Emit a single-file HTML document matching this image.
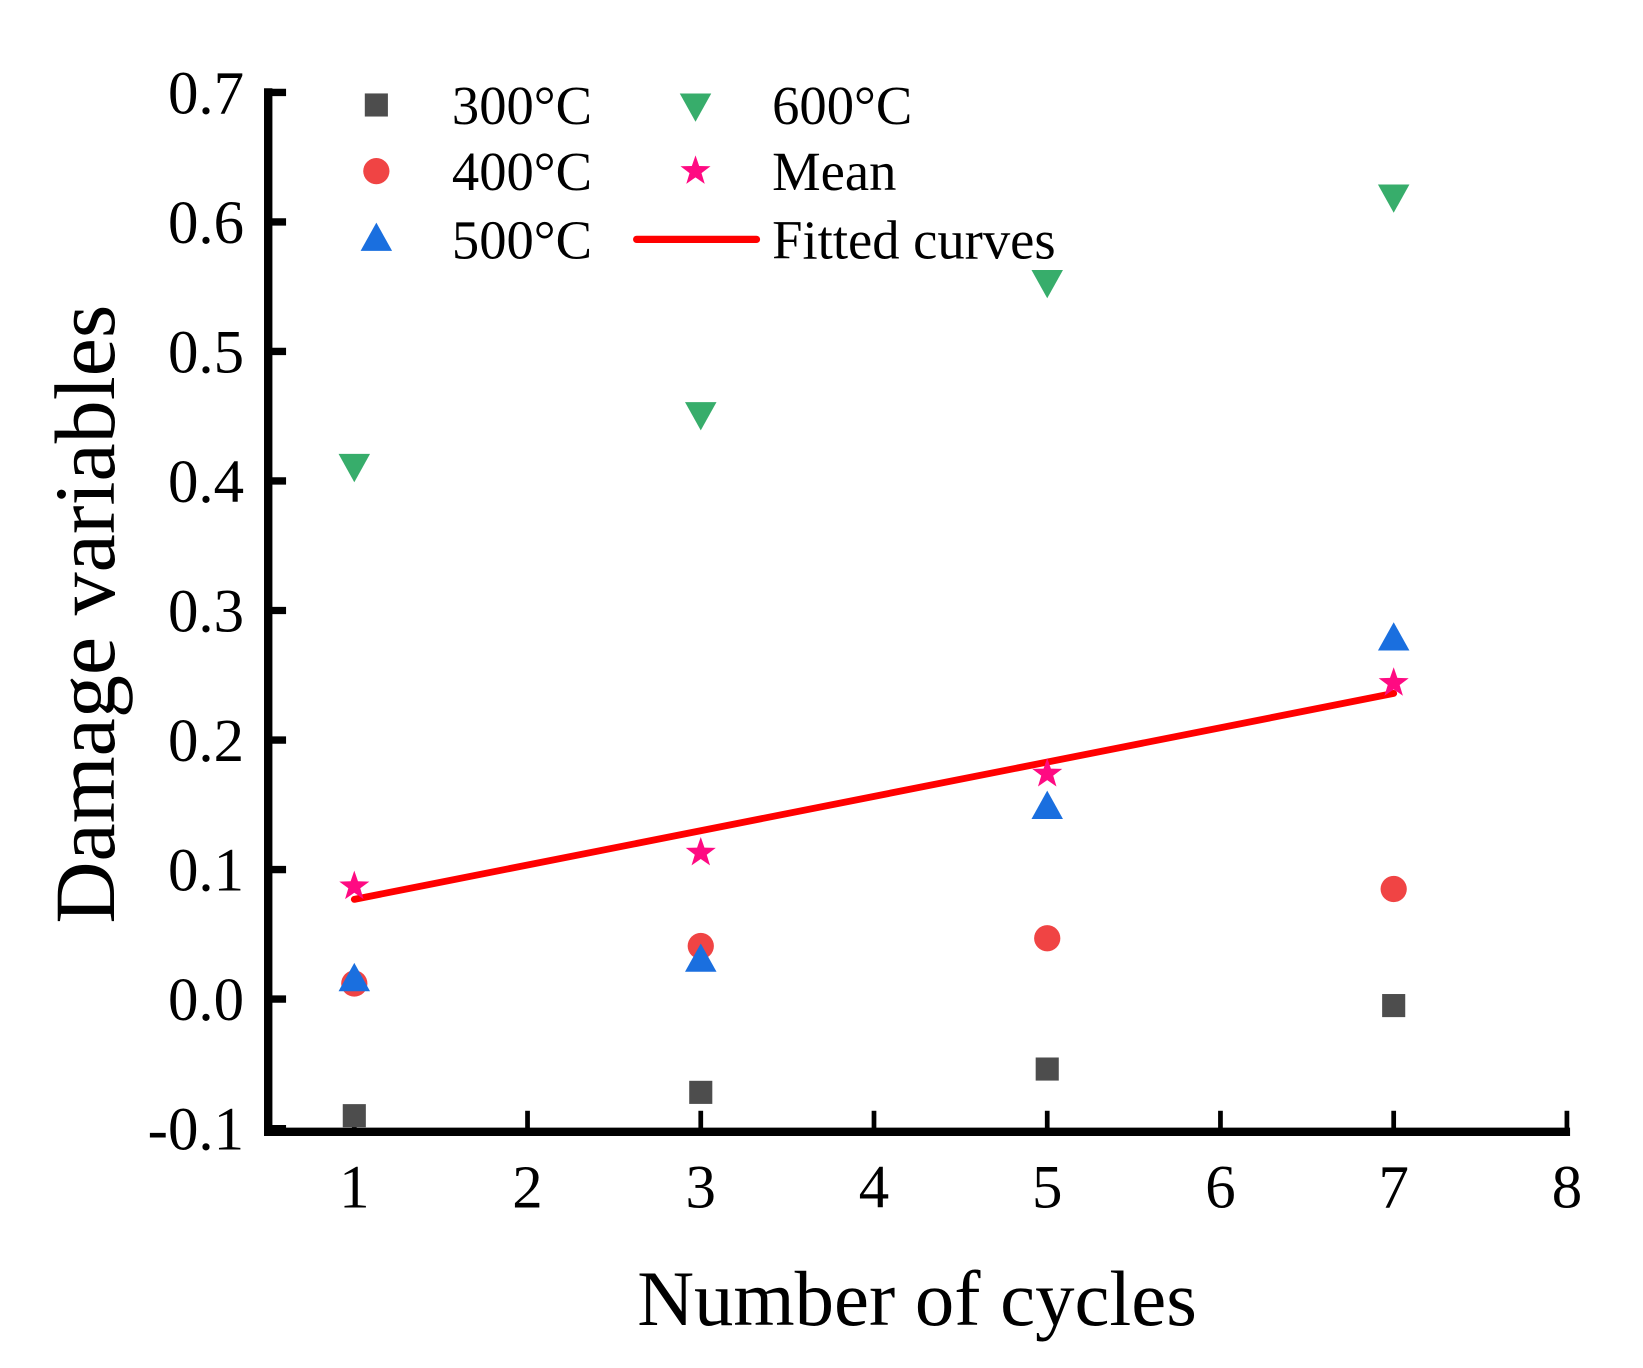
<!DOCTYPE html>
<html><head><meta charset="utf-8"><style>
html,body{margin:0;padding:0;background:#fff}
svg{display:block}
text{font-family:"Liberation Serif",serif;fill:#000}
</style></head><body>
<svg id="chart" width="1643" height="1368" viewBox="0 0 1564 1303" xmlns="http://www.w3.org/2000/svg">
<g id="axes"></g><g id="marks"></g><g id="legend"></g>
<text x="873" y="1262" font-size="75" text-anchor="middle">Number of cycles</text>
<text transform="translate(108,585) rotate(-90)" font-size="82" text-anchor="middle">Damage variables</text>
</svg>
<script>
const cycles=[1,3,5,7];
const s300=[-0.090,-0.072,-0.054,-0.005];
const s400=[0.012,0.041,0.047,0.085];
const s500=[0.015,0.030,0.148,0.278];
const s600=[0.412,0.452,0.554,0.620];
const sMean=[0.087,0.113,0.174,0.244];
const fitX=[1,7];
const fitY=[0.077,0.236];
const xTicks=[1,2,3,4,5,6,7,8];
const yTicks=[-0.1,0,0.1,0.2,0.3,0.4,0.5,0.6,0.7];
const yTickLabels=["-0.1","0.0","0.1","0.2","0.3","0.4","0.5","0.6","0.7"];

const NS="http://www.w3.org/2000/svg";
const X0=255,X1=1492,Y0=1075,Y1=88;
function sx(v){return 337+(v-1)*165;}
function sy(v){return Y0-(v+0.1)*(Y0-Y1)/0.8;}
function mk(tag,attrs,parent){const e=document.createElementNS(NS,tag);for(const k in attrs)e.setAttribute(k,attrs[k]);parent.appendChild(e);return e;}
const axes=document.getElementById('axes'),marks=document.getElementById('marks'),legend=document.getElementById('legend');

let e=mk('line',{x1:X0,y1:Y0+3,x2:X1+3,y2:Y0+3,stroke:'#000','stroke-width':8},axes);


e=mk('line',{x1:X0,y1:Y1-4,x2:X0,y2:Y0+7,stroke:'#000','stroke-width':8},axes);


xTicks.forEach(t=>{
  const x=sx(t);
  let l=mk('line',{x1:x,y1:Y0,x2:x,y2:Y0-17,stroke:'#000','stroke-width':4.5},axes);
  
  
  let tx=mk('text',{x:x,y:1150,'font-size':58,'text-anchor':'middle'},axes);tx.textContent=t;
  
  
});
yTicks.forEach((t,i)=>{
  const y=sy(t);
  let l=mk('line',{x1:X0,y1:y,x2:X0+17,y2:y,stroke:'#000','stroke-width':7},axes);
  
  
  let tx=mk('text',{x:232,y:y+20,'font-size':58,'text-anchor':'end'},axes);tx.textContent=yTickLabels[i];
  
  
});
function square(x,y,p){return mk('rect',{x:x-11,y:y-11,width:22,height:22,fill:'#4d4d4d'},p);}
function circle(x,y,p){return mk('circle',{cx:x,cy:y,r:12.5,fill:'#f04444'},p);}
function triUp(x,y,p){return mk('polygon',{points:`${x},${y-16} ${x-15},${y+11} ${x+15},${y+11}`,fill:'#1a6fdf'},p);}
function triDown(x,y,p){return mk('polygon',{points:`${x},${y+16} ${x-15},${y-11} ${x+15},${y-11}`,fill:'#37ad6b'},p);}
function star(x,y,p){let pts=[];for(let i=0;i<10;i++){const r=i%2?6:15,a=-Math.PI/2+i*Math.PI/5;pts.push((x+r*Math.cos(a)).toFixed(1)+','+(y+r*Math.sin(a)).toFixed(1));}return mk('polygon',{points:pts.join(' '),fill:'#ff0a82'},p);}

let fl=mk('line',{x1:sx(fitX[0]),y1:sy(fitY[0]),x2:sx(fitX[1]),y2:sy(fitY[1]),stroke:'#ff0000','stroke-width':6.5,'stroke-linecap':'round'},marks);


cycles.forEach((c,i)=>{
  let m=square(sx(c),sy(s300[i]),marks);
  
  
  m=circle(sx(c),sy(s400[i]),marks);
  
  
  m=triUp(sx(c),sy(s500[i]),marks);
  
  
  m=triDown(sx(c),sy(s600[i]),marks);
  
  
  m=star(sx(c),sy(sMean[i]),marks);
  
  
});
const rows=[100,163,228];
function ltext(x,y,s){let t=mk('text',{x:x,y:y+18,'font-size':52},legend);t.textContent=s;}
let g;
g=square(358,rows[0],legend);ltext(430,rows[0],'300°C');
g=circle(358,rows[1],legend);ltext(430,rows[1],'400°C');
g=triUp(358,rows[2],legend);ltext(430,rows[2],'500°C');
g=triDown(662,rows[0],legend);ltext(735,rows[0],'600°C');
g=star(662,rows[1],legend);ltext(735,rows[1],'Mean');
g=mk('line',{x1:606,y1:rows[2],x2:720,y2:rows[2],stroke:'#ff0000','stroke-width':7,'stroke-linecap':'round'},legend);ltext(735,rows[2],'Fitted curves');
</script>
</body></html>
